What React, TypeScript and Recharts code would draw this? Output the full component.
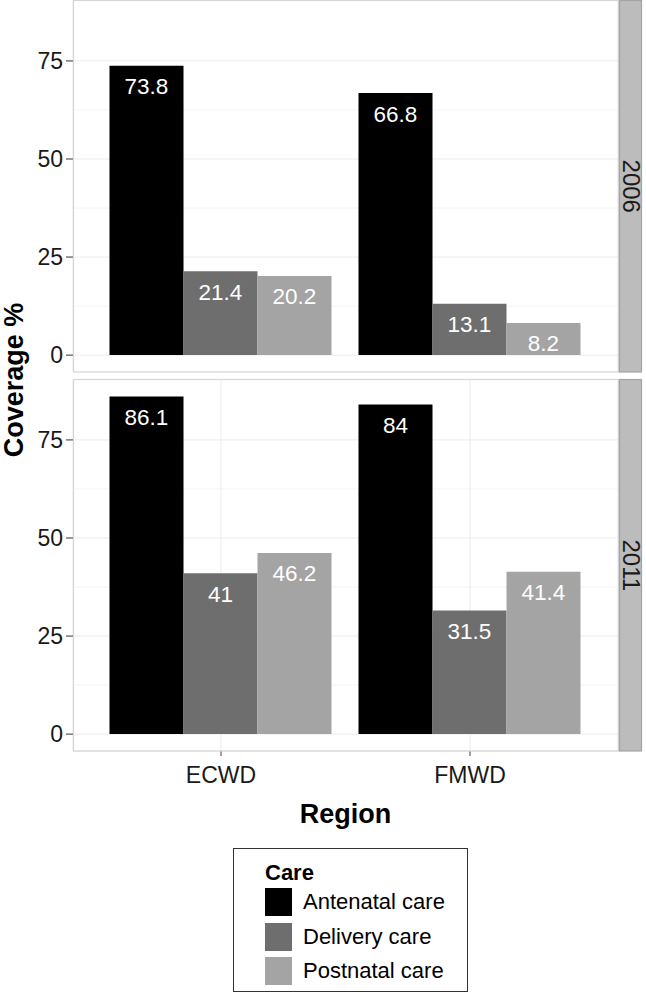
import React from 'react'
import {
  Bar,
  BarChart,
  CartesianGrid,
  LabelList,
  XAxis,
  YAxis,
} from 'recharts'

const regions = ['ECWD', 'FMWD']
const careTypes = ['Antenatal care', 'Delivery care', 'Postnatal care']
const careKeys = ['antenatal', 'delivery', 'postnatal']
const careColors = ['#000000', '#6e6e6e', '#a4a4a4']
const years = ['2006', '2011']

const antenatal2006 = [73.8, 66.8]
const delivery2006 = [21.4, 13.1]
const postnatal2006 = [20.2, 8.2]
const antenatal2011 = [86.1, 84]
const delivery2011 = [41, 31.5]
const postnatal2011 = [46.2, 41.4]

const yTicks = [0, 25, 50, 75]
const yMinorTicks = [12.5, 37.5, 62.5]

const FONT = '"Liberation Sans", Arial, Helvetica, sans-serif'

const buildRows = (a: number[], d: number[], p: number[]) =>
  regions.map((region, i) => ({
    region,
    antenatal: a[i],
    delivery: d[i],
    postnatal: p[i],
  }))

const panels = [
  { year: years[0], rows: buildRows(antenatal2006, delivery2006, postnatal2006) },
  { year: years[1], rows: buildRows(antenatal2011, delivery2011, postnatal2011) },
]

// ggplot style expansion: 5% of the data range on both sides
const yMax = Math.max(...antenatal2011)
const yDomain = [-0.05 * yMax, yMax * 1.05]

const PLOT_LEFT = 73
const PLOT_RIGHT = 618
const PLOT_H = 371.5

const renderValue = (props: any) => {
  const { x, y, width, value } = props
  return (
    <text
      x={Number(x) + Number(width) / 2}
      y={Number(y) + 21}
      fill='#ffffff'
      fontSize={22.5}
      fontFamily={FONT}
      textAnchor='middle'
      dominantBaseline='central'
    >
      {value}
    </text>
  )
}

type PanelProps = {
  rows: Array<Record<string, any>>
  showX: boolean
}

const Panel = ({ rows, showX }: PanelProps) => {
  const xHeight = showX ? 40 : 0
  return (
    <BarChart
      width={646}
      height={0.5 + PLOT_H + xHeight}
      data={rows}
      margin={{ top: 0.5, right: 646 - PLOT_RIGHT, bottom: 0, left: 0 }}
      barCategoryGap={13}
      barGap={0}
    >
      <CartesianGrid
        horizontalValues={yMinorTicks}
        vertical={false}
        stroke='#f4f4f4'
        strokeWidth={1}
      />
      <CartesianGrid stroke='#ebebeb' strokeWidth={1} />
      <XAxis
        dataKey='region'
        padding={{ left: 23.5, right: 23.5 }}
        height={xHeight}
        axisLine={false}
        tick={showX ? { fontSize: 23, fill: '#1a1a1a', fontFamily: FONT } : false}
        tickLine={showX ? { stroke: '#444' } : false}
        tickSize={5}
        tickMargin={11}
      />
      <YAxis
        type='number'
        domain={yDomain}
        ticks={yTicks}
        allowDataOverflow
        width={PLOT_LEFT}
        axisLine={false}
        tickLine={{ stroke: '#333' }}
        tickSize={7}
        tickMargin={3}
        tick={{ fontSize: 23, fill: '#1a1a1a', fontFamily: FONT }}
      />
      {careKeys.map((key, i) => (
        <Bar
          key={key}
          dataKey={key}
          name={careTypes[i]}
          fill={careColors[i]}
          isAnimationActive={false}
        >
          <LabelList dataKey={key} content={renderValue} />
        </Bar>
      ))}
    </BarChart>
  )
}

const panelTops = [0, 379]

const App = () => {
  return (
    <div
      style={{
        position: 'absolute',
        top: 0,
        left: 0,
        width: 646,
        height: 997,
        background: '#ffffff',
        fontFamily: FONT,
      }}
    >
      {panels.map((p, i) => (
        <div
          key={p.year}
          style={{ position: 'absolute', top: panelTops[i], left: 0 }}
        >
          <Panel rows={p.rows} showX={i === panels.length - 1} />
        </div>
      ))}

      <svg
        width={646}
        height={997}
        style={{ position: 'absolute', top: 0, left: 0, pointerEvents: 'none' }}
      >
        {panels.map((p, i) => {
          const top = panelTops[i] + 0.5
          const cy = top + PLOT_H / 2
          return (
            <g key={p.year}>
              <rect
                x={PLOT_LEFT + 0.5}
                y={top}
                width={PLOT_RIGHT - PLOT_LEFT}
                height={PLOT_H}
                fill='none'
                stroke='#d6d6d6'
                strokeWidth={1.2}
              />
              <rect
                x={619.5}
                y={top}
                width={22}
                height={PLOT_H}
                fill='#bcbcbc'
                stroke='#a4a4a4'
                strokeWidth={1.2}
              />
              <text
                x={631}
                y={cy}
                fontSize={24}
                fontFamily={FONT}
                fill='#1a1a1a'
                textAnchor='middle'
                dominantBaseline='central'
                transform={`rotate(90, 631, ${cy})`}
              >
                {p.year}
              </text>
            </g>
          )
        })}
        <text
          x={14}
          y={380}
          fontSize={27}
          fontWeight='bold'
          fontFamily={FONT}
          fill='#000'
          textAnchor='middle'
          dominantBaseline='central'
          transform='rotate(-90, 14, 380)'
        >
          Coverage %
        </text>
        <text
          x={(PLOT_LEFT + PLOT_RIGHT) / 2}
          y={823}
          fontSize={27}
          fontWeight='bold'
          fontFamily={FONT}
          fill='#000'
          textAnchor='middle'
        >
          Region
        </text>
      </svg>

      <div
        style={{
          position: 'absolute',
          left: 233,
          top: 848,
          width: 235,
          height: 144,
          border: '1.5px solid #333',
          boxSizing: 'border-box',
        }}
      >
        <div
          style={{
            position: 'absolute',
            left: 31,
            top: 11,
            fontSize: 22,
            fontWeight: 'bold',
            lineHeight: '26px',
          }}
        >
          Care
        </div>
        {careTypes.map((c, i) => (
          <div
            key={c}
            style={{
              position: 'absolute',
              left: 31,
              top: 39 + i * 34.7,
              display: 'flex',
              alignItems: 'center',
              height: 28,
            }}
          >
            <div
              style={{ width: 27, height: 28, background: careColors[i] }}
            />
            <span style={{ marginLeft: 11, fontSize: 22, whiteSpace: 'nowrap' }}>
              {c}
            </span>
          </div>
        ))}
      </div>
    </div>
  )
}

export default App
